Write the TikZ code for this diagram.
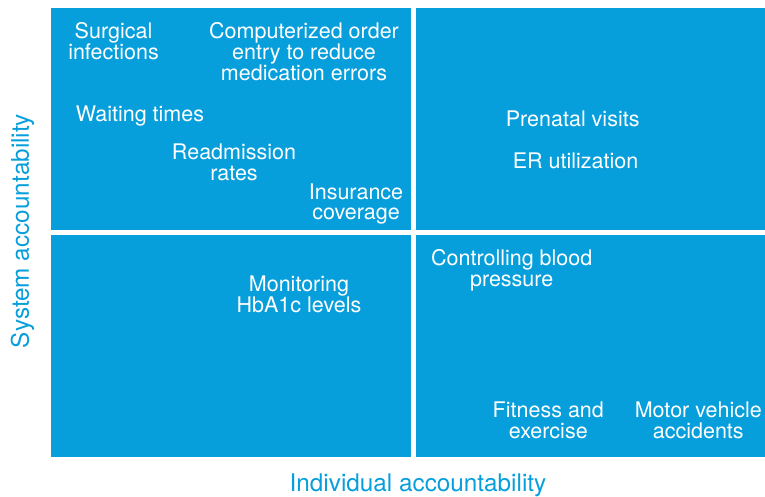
\documentclass[tikz,border=0pt]{standalone}
\usepackage{fontspec}
\setmainfont{TeX Gyre Heros}
\definecolor{qblue}{RGB}{7,159,219}
\tikzset{
  quad_n/.style = {fill=qblue, draw=none, inner sep=0pt, anchor=north west},
  item_n/.style = {align=center, inner sep=0pt, text=white,
    font=\fontsize{21.5}{20.8}\selectfont},
  axis_n/.style = {inner sep=0pt, text=qblue,
    font=\fontsize{24.3}{26}\selectfont}}

\begin{document}
\begin{tikzpicture}[x=1pt,y=-1pt]
\useasboundingbox (0,0) rectangle (765,496);

% the four quadrants
\node [quad_n, minimum width=359.5pt, minimum height=221.5pt] (q_tl) at (51,8) {};
\node [quad_n, minimum width=349.3pt, minimum height=221.5pt] (q_tr) at (415.7,8) {};
\node [quad_n, minimum width=359.5pt, minimum height=222pt] (q_bl) at (51,235) {};
\node [quad_n, minimum width=349.3pt, minimum height=222pt] (q_br) at (415.7,235) {};

% items, top left
\node [item_n] (surg) at (113.5,41.5) {Surgical\\infections};
\node [item_n] (cpoe) at (304,51.5) {Computerized order\\entry to reduce\\medication errors};
\node [item_n] (wait) at (140,116.5) {Waiting times};
\node [item_n] (readm) at (234,162) {Readmission\\rates};
\node [item_n] (insur) at (356,204) {Insurance\\coverage};

% top right
\node [item_n] (prenat) at (572.7,118.5) {Prenatal visits};
\node [item_n] (er) at (575.5,160.8) {ER utilization};

% bottom left
\node [item_n] (hba1c) at (299,294.5) {Monitoring\\HbA1c levels};

% bottom right
\node [item_n] (bp) at (511.7,270.5) {Controlling blood\\pressure};
\node [item_n] (fit) at (548.3,420.5) {Fitness and\\exercise};
\node [item_n] (mva) at (698.3,420.5) {Motor vehicle\\accidents};

% axes
\node [axis_n] (x_lab) at (418,485.5) {Individual accountability};
\node [axis_n, rotate=90] (y_lab) at (22.5,231) {System accountability};
\end{tikzpicture}
\end{document}
